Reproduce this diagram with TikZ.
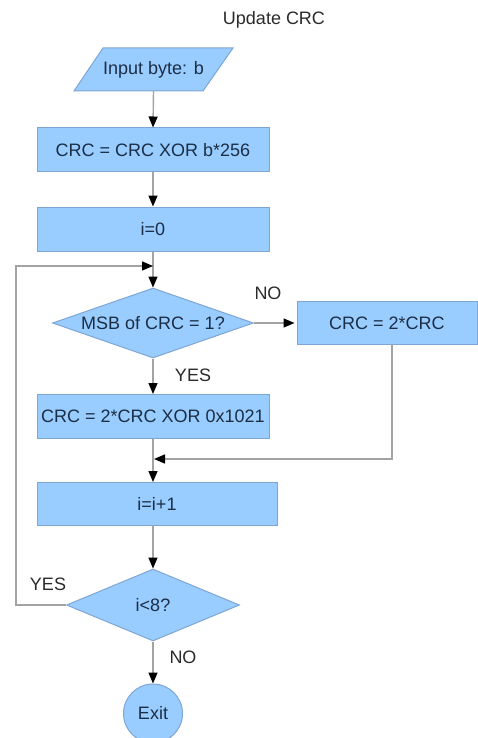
\documentclass[tikz,border=0pt]{standalone}
\usepackage{fontspec}
\setmainfont{Liberation Sans}
\usetikzlibrary{shapes.geometric,arrows.meta}
\definecolor{boxfill}{HTML}{99CCFF}
\definecolor{boxline}{HTML}{7FA6D2}
\definecolor{boxtext}{HTML}{1C2E45}
\definecolor{conn}{HTML}{A3A3A3}
\definecolor{lbl}{HTML}{2A2A2A}
\begin{document}
\begin{tikzpicture}[x=1pt,y=-1pt,
  font=\fontsize{18}{21}\selectfont,
  box/.style={draw=boxline,fill=boxfill,text=boxtext,line width=1pt,inner sep=0pt,
    minimum width=232pt,minimum height=44pt},
  dec/.style={diamond,draw=boxline,fill=boxfill,text=boxtext,line width=1pt,inner sep=0pt},
  lab/.style={text=lbl,inner sep=0pt},
  conn/.style={draw=conn,line width=1.4pt,-{Triangle[length=11pt,width=9pt,color=black]}},
  plain/.style={draw=conn,line width=1.4pt}]
\useasboundingbox (0,0) rectangle (478,738);

\node[lab] (title) at (274,20) {Update CRC};

% input parallelogram
\node[inner sep=0pt,minimum width=130pt,minimum height=43pt] (inp) at (153.5,69.5) {};
\draw[draw=boxline,fill=boxfill,line width=1pt] (103,48) -- (233,48) -- (203,91) -- (74,91) -- cycle;
\node[text=boxtext] at (inp.center) {Input byte: b};

\node[box] (b1) at (153,150) {CRC = CRC XOR b*256};
\node[box] (b2) at (153,229) {i=0};
\node[dec,minimum width=201pt,minimum height=70pt,aspect=2.87] (d1) at (153,323) {MSB of CRC = 1?};
\node[box,minimum width=180pt,minimum height=43pt] (b3) at (387,323) {CRC = 2*CRC};
\node[box] (b4) at (153,416.5) {CRC = 2*CRC XOR 0x1021};
\node[box,minimum width=240pt,minimum height=43pt] (b5) at (157,503.5) {i=i+1};
\node[dec,minimum width=173pt,minimum height=72pt,aspect=2.4] (d2) at (153,605) {i<8?};
\node[circle,draw=boxline,fill=boxfill,text=boxtext,line width=1pt,minimum size=59pt,inner sep=0pt] (ex) at (153,713.5) {Exit};

\coordinate (loopTop) at (153,266);
\coordinate (loopL1) at (16,605);
\coordinate (loopL2) at (16,266);
\coordinate (mergeR) at (392,459);
\coordinate (mergeL) at (154,459);
\coordinate (b3s) at (392,344);
\coordinate (b4s) at (153,439);
\coordinate (b5n) at (153,482);
\coordinate (b5s) at (153,525);

\draw[conn] (inp.south) -- (b1.north);
\draw[conn] (b1.south) -- (b2.north);
\draw[conn] (b2.south) -- (d1.north);
\draw[conn] (d2.west) -- (loopL1) -- (loopL2) -- (loopTop);
\draw[conn,shorten >=2pt] (d1.east) -- (b3.west);
\draw[conn] (d1.south) -- (b4.north);
\draw[conn] (b3s) -- (mergeR) -- (mergeL);
\draw[conn] (b4s) -- (b5n);
\draw[conn] (b5s) -- (d2.north);
\draw[conn] (d2.south) -- (ex.north);

\node[lab] (no1) at (268,293) {NO};
\node[lab] (yes1) at (193,375) {YES};
\node[lab] (yes2) at (48,584) {YES};
\node[lab] (no2) at (183,657) {NO};
\end{tikzpicture}
\end{document}
